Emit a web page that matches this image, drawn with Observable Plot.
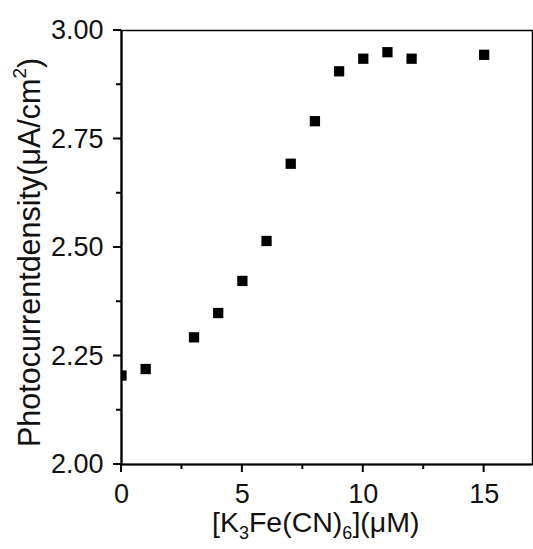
<!DOCTYPE html>
<html>
<head>
<meta charset="utf-8">
<script src="https://cdn.jsdelivr.net/npm/d3@7"></script>
<script src="https://cdn.jsdelivr.net/npm/@observablehq/plot@0.6"></script>
<style>
  html, body { margin: 0; padding: 0; background: #fff; }
  svg { display: block; }
</style>
</head>
<body>
<div id="chart"></div>
<script>
const concentration = [0, 1, 3, 4, 5, 6, 7, 8, 9, 10, 11, 12, 15];
const photocurrent = [2.205, 2.220, 2.293, 2.349, 2.423, 2.515, 2.693, 2.791, 2.906, 2.935, 2.950, 2.935, 2.944];
const xMajorTicks = [0, 5, 10, 15];
const xMinorTicks = [2.5, 7.5, 12.5];
const yMajorTicks = [2.00, 2.25, 2.50, 2.75, 3.00];
const yMinorTicks = [2.125, 2.375, 2.625, 2.875];

const data = concentration.map((c, i) => ({c, p: photocurrent[i]}));

const font = "'Liberation Sans', Arial, sans-serif";

const svg = Plot.plot({
  width: 533,
  height: 549,
  marginLeft: 121,
  marginRight: 1,
  marginTop: 30,
  marginBottom: 85,
  style: {fontFamily: font, color: "#000", background: "#fff"},
  x: {domain: [0, 17]},
  y: {domain: [2, 3]},
  marks: [
    Plot.axisX(xMajorTicks, {tickSize: 0, tickPadding: 19, fontSize: 27, label: null, tickFormat: d => String(d), fill: "#111"}),
    Plot.axisY(yMajorTicks, {tickSize: 0, tickPadding: 18, fontSize: 27, label: null, tickFormat: d3.format(".2f"), fill: "#111"}),
    Plot.dot(data, {x: "c", y: "p", symbol: "square", r: 5.8, fill: "#000", stroke: "none", clip: "frame"}),
    Plot.frame({stroke: "#000", strokeWidth: 1.5}),
    Plot.ruleX([0], {stroke: "#000", strokeWidth: 2.2}),
    Plot.ruleY([2], {stroke: "#000", strokeWidth: 2.2})
  ]
});

const s = d3.select(svg);
const sx = svg.scale("x");
const sy = svg.scale("y");
const x0 = sx.apply(0);
const y0 = sy.apply(2);

// tick marks drawn outward from the axes, positioned by Plot's own scales
const tg = s.append("g").attr("fill", "#000").attr("stroke", "none");
const xTicks = xMajorTicks.map(v => [v, 8]).concat(xMinorTicks.map(v => [v, 5]));
const yTicks = yMajorTicks.map(v => [v, 8]).concat(yMinorTicks.map(v => [v, 5]));
for (const [v, len] of xTicks) {
  const px = sx.apply(v);
  tg.append("rect").attr("x", px - 1).attr("y", y0).attr("width", 2).attr("height", len);
}
for (const [v, len] of yTicks) {
  const py = sy.apply(v);
  tg.append("rect").attr("x", x0 - len).attr("y", py - 1).attr("width", len).attr("height", 2);
}

// x-axis title with subscripts
const xt = s.append("text")
  .attr("x", 212)
  .attr("y", 532)
  .attr("text-anchor", "start")
  .attr("font-size", 28.5)
  .attr("font-family", font)
  .attr("fill", "#111");
xt.append("tspan").text("[K");
xt.append("tspan").attr("font-size", 18).attr("dy", 7).text("3");
xt.append("tspan").attr("dy", -7).text("Fe(CN)");
xt.append("tspan").attr("font-size", 18).attr("dy", 7).text("6");
xt.append("tspan").attr("dy", -7).text("](μM)");

// y-axis title with superscript
const yt = s.append("text")
  .attr("transform", "translate(40,447) rotate(-90)")
  .attr("text-anchor", "start")
  .attr("font-size", 30.5)
  .attr("font-family", font)
  .attr("fill", "#111");
yt.append("tspan").text("Photocurrentdensity(μA/cm");
yt.append("tspan").attr("font-size", 19).attr("dy", -14).text("2");
yt.append("tspan").attr("dy", 14).text(")");

document.getElementById("chart").appendChild(svg);
</script>
</body>
</html>
